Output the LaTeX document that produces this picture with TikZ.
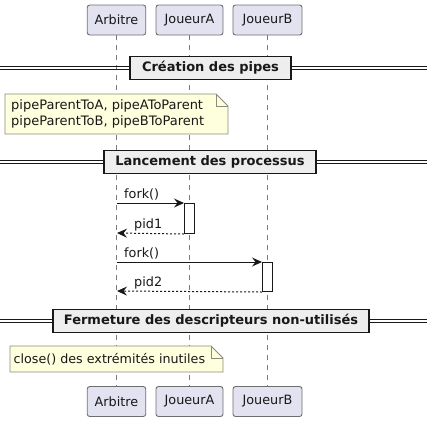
\documentclass[tikz,border=0pt]{standalone}
\usepackage{fontspec}
\setmainfont{DejaVu Sans}
\usetikzlibrary{arrows.meta,shapes.misc}
\definecolor{partfill}{HTML}{E2E2F0}
\definecolor{partdraw}{HTML}{6E6E6E}
\definecolor{notefill}{HTML}{FEFFDD}
\definecolor{notedraw}{HTML}{8A8A7A}
\definecolor{divfill}{HTML}{EEEEEE}
\definecolor{lifeline}{HTML}{7A7A7A}
\definecolor{ink}{HTML}{181818}
\begin{document}
\begin{tikzpicture}[x=1pt,y=-1pt,
  participant/.style={draw=partdraw,fill=partfill,rounded corners=2.5pt,line width=0.9pt,
    minimum height=30pt,inner xsep=6pt,font=\fontsize{12.8}{15}\selectfont,text=ink},
  divider/.style={draw=ink,fill=divfill,line width=1.6pt,minimum height=23pt,inner xsep=8pt,
    font=\bfseries\fontsize{13}{15}\selectfont,text=ink},
  divline/.style={draw=ink,line width=1pt},
  life/.style={draw=lifeline,line width=0.8pt,dash pattern=on 5pt off 5pt},
  act/.style={draw=ink,fill=white,line width=1pt,minimum width=10pt,inner sep=0pt},
  msg/.style={draw=ink,line width=1pt,-{Stealth[length=10pt,width=9pt,inset=3.5pt]}},
  ret/.style={msg,dash pattern=on 2pt off 2pt},
  lbl/.style={font=\fontsize{12.8}{15}\selectfont,text=ink,inner sep=0pt},
  notetxt/.style={font=\fontsize{13}{15.5}\selectfont,text=ink,align=left,inner sep=0pt}
]
\useasboundingbox (0,0) rectangle (427,421);

% participants
\node[participant,minimum width=58.5pt] (aT) at (116.5,20) {Arbitre};
\node[participant,minimum width=67pt] (jaT) at (189.5,20) {JoueurA};
\node[participant,minimum width=69pt] (jbT) at (267.5,20) {JoueurB};
\node[participant,minimum width=58.5pt] (aB) at (116.5,401.5) {Arbitre};
\node[participant,minimum width=67pt] (jaB) at (189.5,401.5) {JoueurA};
\node[participant,minimum width=69pt] (jbB) at (267.5,401.5) {JoueurB};

% lifelines
\draw[life] (aT.south) -- (aB.north);
\draw[life] (jaT.south) -- (jaB.north);
\draw[life] (jbT.south) -- (jbB.north);

% divider 1
\coordinate (d1l) at (0,68);
\coordinate (d1r) at (427,68);
\draw[divline] ([yshift=-1.7pt]d1l) -- ([yshift=-1.7pt]d1r);
\draw[divline] ([yshift=1.7pt]d1l) -- ([yshift=1.7pt]d1r);
\node[divider,minimum width=161pt] (div1) at (210.5,68) {Création des pipes};

% note 1
\fill[notefill] (5,94) -- (216,94) -- (228,106) -- (228,134) -- (5,134) -- cycle;
\draw[notedraw,line width=0.8pt] (5,94) -- (216,94) -- (228,106) -- (228,134) -- (5,134) -- cycle;
\draw[notedraw,line width=0.8pt] (216,94) -- (216,106) -- (228,106);
\node[notetxt,anchor=west] (n1) at (11,114) {pipeParentToA, pipeAToParent\\pipeParentToB, pipeBToParent};

% divider 2
\coordinate (d2l) at (0,162);
\coordinate (d2r) at (427,162);
\draw[divline] ([yshift=-1.7pt]d2l) -- ([yshift=-1.7pt]d2r);
\draw[divline] ([yshift=1.7pt]d2l) -- ([yshift=1.7pt]d2r);
\node[divider,minimum width=212pt] (div2) at (210,162) {Lancement des processus};

% activations
\node[act,minimum height=30pt,anchor=north] (actA) at (189.5,203) {};
\node[act,minimum height=29pt,anchor=north] (actB) at (267.5,262) {};

\coordinate (a1) at (116.5,203);
\coordinate (a2) at (117,233);
\coordinate (a3) at (116.5,262);
\coordinate (a4) at (117,291);

\draw[msg] (a1) -- (actA.north west);
\node[lbl,anchor=base west] (l1) at (124,198) {fork()};
\draw[ret] (actA.south west) -- (a2);
\node[lbl,anchor=base west] (l2) at (134,228) {pid1};
\draw[msg] (a3) -- (actB.north west);
\node[lbl,anchor=base west] (l3) at (124,257) {fork()};
\draw[ret] (actB.south west) -- (a4);
\node[lbl,anchor=base west] (l4) at (134,286) {pid2};

% divider 3
\coordinate (d3l) at (0,321);
\coordinate (d3r) at (427,321);
\draw[divline] ([yshift=-1.7pt]d3l) -- ([yshift=-1.7pt]d3r);
\draw[divline] ([yshift=1.7pt]d3l) -- ([yshift=1.7pt]d3r);
\node[divider,minimum width=316pt] (div3) at (211,321) {Fermeture des descripteurs non-utilisés};

% note 2
\fill[notefill] (10,346) -- (211,346) -- (223,358) -- (223,372) -- (10,372) -- cycle;
\draw[notedraw,line width=0.8pt] (10,346) -- (211,346) -- (223,358) -- (223,372) -- (10,372) -- cycle;
\draw[notedraw,line width=0.8pt] (211,346) -- (211,358) -- (223,358);
\node[notetxt,font=\fontsize{12.7}{15}\selectfont,anchor=west] (n2) at (13.5,359.5) {close() des extrémités inutiles};
\end{tikzpicture}
\end{document}
